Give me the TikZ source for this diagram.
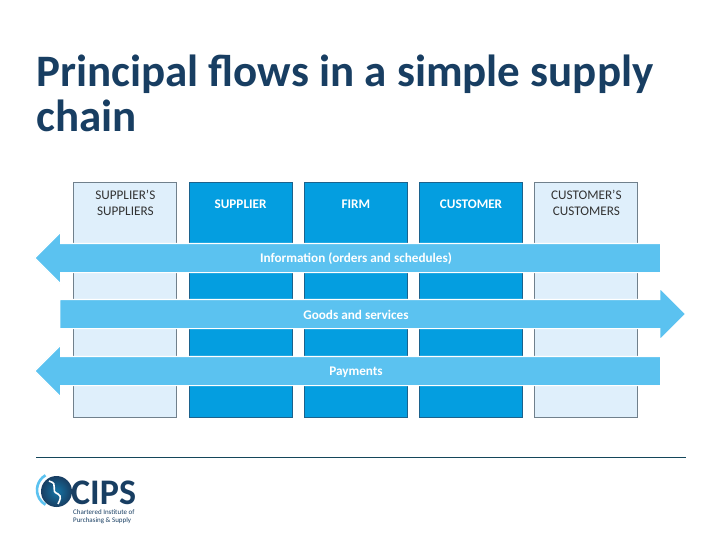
\documentclass[tikz,border=0pt]{standalone}
\usepackage{fontspec}
\setmainfont{Carlito}
\usetikzlibrary{shapes,arrows,positioning,calc}
\definecolor{titleblue}{RGB}{24,62,98}
\definecolor{midblue}{RGB}{4,158,224}
\definecolor{midedge}{RGB}{28,98,140}
\definecolor{paleblue}{RGB}{223,239,251}
\definecolor{paleedge}{RGB}{112,128,140}
\definecolor{flowblue}{RGB}{91,194,240}
\definecolor{ruleblue}{RGB}{20,70,90}

\begin{document}
\begin{tikzpicture}[x=1pt,y=-1pt,
    box/.style={draw, rectangle, minimum width=103pt, minimum height=235pt, inner sep=0pt, line width=1pt},
    outerbox/.style={box, fill=paleblue, draw=paleedge},
    innerbox/.style={box, fill=midblue, draw=midedge},
    outertext/.style={font=\fontsize{13.2}{16}\selectfont, align=center, text=black!80},
    innertext/.style={font=\fontsize{13.2}{16}\selectfont\bfseries, text=white},
    flowtext/.style={font=\fontsize{13.2}{16}\selectfont\bfseries, text=white},
    flow/.style={single arrow, draw=white, line width=1.2pt, fill=flowblue, inner xsep=0pt, inner ysep=14pt,
        minimum height=#1, minimum width=50pt, single arrow head extend=11.5pt, single arrow tip angle=90},
    node distance=11.25pt
]
    \useasboundingbox (0,0) rectangle (720,540);

    \node[anchor=north west, inner sep=0pt, align=left, text=titleblue,
        font=\fontsize{45}{45}\selectfont\bfseries] (title) at (36,55) {Principal flows in a simple supply\\chain};

    \node[outerbox, anchor=north west] (suppliers) at (73.3,181.9) {};
    \node[innerbox, right=of suppliers] (supplier) {};
    \node[innerbox, right=of supplier] (firm) {};
    \node[innerbox, right=of firm] (customer) {};
    \node[outerbox, right=of customer] (customers) {};

    % Column heads
    \node[outertext, below=4.5pt of suppliers.north] (supplierstext) {SUPPLIER'S\\SUPPLIERS};
    \node[innertext, below=14.5pt of supplier.north] (suppliertext) {SUPPLIER};
    \node[innertext, below=14.5pt of firm.north] (firmtext) {FIRM};
    \node[innertext, below=14.5pt of customer.north] (customertext) {CUSTOMER};
    \node[outertext, below=4.5pt of customers.north] (customerstext) {CUSTOMER'S\\CUSTOMERS};

    % Flows
    \node[flow=626pt, shape border rotate=180] (info) at (355,258) {};
    \node[flow=626pt] (goods) at (365.5,314) {};
    \node[flow=626pt, shape border rotate=180] (pay) at (355,371) {};
    \node[flowtext] (infotext) at (356,259) {Information (orders and schedules)};
    \node[flowtext] (goodstext) at (356,314.5) {Goods and services};
    \node[flowtext] (paytext) at (356,372) {Payments};

    % Footer
    \coordinate (ruleleft) at (36,457.5);
    \coordinate (ruleright) at (686,457.5);
    \draw[ruleblue, line width=0.9pt] (ruleleft) -- (ruleright);

    % Logo
    \draw[flowblue, line width=2.6pt] (45.5,475.3) arc[start angle=-120, end angle=-240, radius=17];
    \node[circle, inner color=midedge!70!midblue, outer color=titleblue, minimum size=31pt, inner sep=0pt] (badge) at (56.5,491.5) {};
    \draw[white, line width=1.6pt] (49,481) .. controls (60,484) and (49,491) .. (58,494) .. controls (62,496) and (60,500) .. (58,504);
    \node[anchor=west, inner sep=0pt, text depth=0pt, text height=22pt, text=titleblue, font=\fontsize{36}{36}\selectfont\bfseries] (cips) at (71,493.5) {CIPS};
    \node[anchor=north west, inner sep=0pt, align=left, text=titleblue,
        font=\fontsize{7}{8.2}\selectfont] (cipstext) at (73,509) {Chartered Institute of\\Purchasing \& Supply};
\end{tikzpicture}
\end{document}
